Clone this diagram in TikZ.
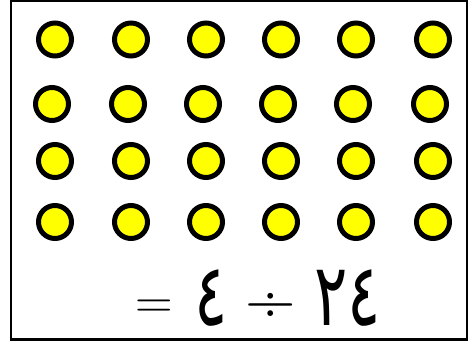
\documentclass[tikz,border=0pt]{standalone}
\usepackage{fontspec}
\usepackage{tikz}
\newfontfamily\arabicfont[Script=Arabic, FakeStretch=0.714]{DejaVu Sans}
\definecolor{dotyellow}{RGB}{255,255,0}
\tikzset{
  dot/.style={fill=dotyellow, draw=black, line width=5pt},
  signtext/.style={inner sep=0pt, anchor=base, font=\fontsize{52}{56}\selectfont},
  digittext/.style={inner sep=0pt, anchor=base, font=\arabicfont\fontsize{87}{90}\selectfont}
}

\begin{document}
\begin{tikzpicture}[x=1pt, y=-1pt]
\useasboundingbox (0,0) rectangle (468,343);
\draw[line width=2.5pt] (11,1) rectangle (467,339.5);
\filldraw[dot] (55,39.5) circle (16.5);
\filldraw[dot] (131,39.5) circle (16.5);
\filldraw[dot] (206,39.5) circle (16.5);
\filldraw[dot] (281,39.5) circle (16.5);
\filldraw[dot] (356,39.5) circle (16.5);
\filldraw[dot] (433,39.5) circle (16.5);
\filldraw[dot] (52,104) circle (16.5);
\filldraw[dot] (128,104) circle (16.5);
\filldraw[dot] (203,104) circle (16.5);
\filldraw[dot] (278,104) circle (16.5);
\filldraw[dot] (353,104) circle (16.5);
\filldraw[dot] (430,104) circle (16.5);
\filldraw[dot] (55,161) circle (16.5);
\filldraw[dot] (131,161) circle (16.5);
\filldraw[dot] (206,161) circle (16.5);
\filldraw[dot] (281,161) circle (16.5);
\filldraw[dot] (356,161) circle (16.5);
\filldraw[dot] (433,161) circle (16.5);
\filldraw[dot] (55,222) circle (16.5);
\filldraw[dot] (131,222) circle (16.5);
\filldraw[dot] (206,222) circle (16.5);
\filldraw[dot] (281,222) circle (16.5);
\filldraw[dot] (356,222) circle (16.5);
\filldraw[dot] (433,222) circle (16.5);
% 24 / 4 = , set right to left
\node[signtext] (equals) at (154.5,318) {=};
\node[digittext] (four) at (211.5,325) {٤};
\node[signtext, font=\fontsize{70}{74}\selectfont] (divide) at (270.5,322) {÷};
\node[digittext] (twentyfour) at (347.5,325) {٢٤};
\end{tikzpicture}
\end{document}
